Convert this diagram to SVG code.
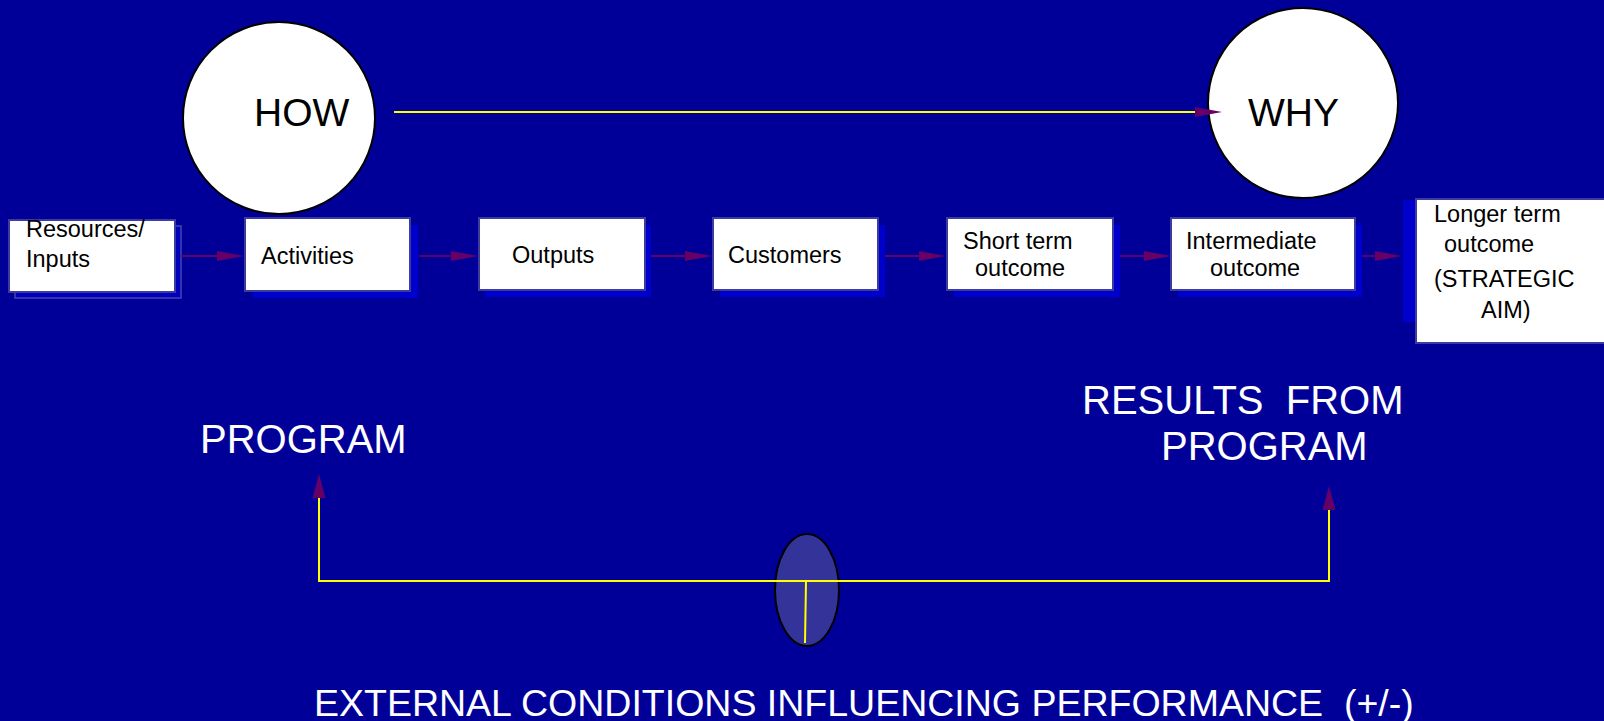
<svg xmlns="http://www.w3.org/2000/svg" width="1604" height="721" viewBox="0 0 1604 721">
<defs>
<style>
.bg{fill:#000099}
.box{fill:#ffffff;stroke:#3c3ca0;stroke-width:2}
.shadow{fill:#0000cc}
.shadow2{fill:#0000bb;stroke:#4444b0;stroke-width:1.5}
.circ{fill:#ffffff;stroke:#000000;stroke-width:2}
.t{font-family:"Liberation Sans",Arial,sans-serif;font-size:23.5px;fill:#000000}
.big{font-family:"Liberation Sans",Arial,sans-serif;font-size:39px;fill:#000000}
.w{font-family:"Liberation Sans",Arial,sans-serif;font-size:40px;fill:#ffffff}
.ext{font-family:"Liberation Sans",Arial,sans-serif;font-size:37.5px;fill:#ffffff}
.ar{stroke:#660066;stroke-width:1.8;fill:none}
.yl{stroke:#ffff00;stroke-width:2;fill:none}
</style>
<marker id="ah" markerUnits="userSpaceOnUse" viewBox="0 0 27 10" refX="0" refY="5" markerWidth="27" markerHeight="10" orient="auto">
<path d="M0,0 L27,5 L0,10 z" fill="#660066"/>
</marker>
<marker id="av" markerUnits="userSpaceOnUse" viewBox="0 0 24 13" refX="0" refY="6.5" markerWidth="24" markerHeight="13" orient="auto">
<path d="M0,0 L24,6.5 L0,13 z" fill="#660066"/>
</marker>
</defs>
<rect class="bg" x="0" y="0" width="1604" height="721"/>

<g id="how">
<circle class="circ" cx="279" cy="118" r="96"/>
<text class="big" x="254" y="126">HOW</text>
</g>
<g id="why">
<circle class="circ" cx="1303" cy="103" r="95"/>
<text class="big" x="1248" y="126">WHY</text>
</g>

<g id="resources">
<rect class="shadow2" x="15" y="226" width="166" height="72"/>
<rect class="box" x="9" y="220" width="166" height="72"/>
<text class="t" x="26" y="237">Resources/</text>
<text class="t" x="26" y="267">Inputs</text>
</g>
<g id="activities">
<rect class="shadow" x="253" y="225" width="165" height="73"/>
<rect class="box" x="245" y="218" width="165" height="73"/>
<text class="t" x="261" y="264">Activities</text>
</g>
<g id="outputs">
<rect class="shadow" x="485" y="225" width="166" height="72"/>
<rect class="box" x="479" y="218" width="166" height="72"/>
<text class="t" x="512" y="263">Outputs</text>
</g>
<g id="customers">
<rect class="shadow" x="720" y="225" width="165" height="72"/>
<rect class="box" x="713" y="218" width="165" height="72"/>
<text class="t" x="728" y="263">Customers</text>
</g>
<g id="shortterm">
<rect class="shadow" x="954" y="225" width="166" height="72"/>
<rect class="box" x="947" y="218" width="166" height="72"/>
<text class="t" x="963" y="249">Short term</text>
<text class="t" x="975" y="276">outcome</text>
</g>
<g id="intermediate">
<rect class="shadow" x="1178" y="225" width="184" height="72"/>
<rect class="box" x="1171" y="218" width="184" height="72"/>
<text class="t" x="1186" y="249">Intermediate</text>
<text class="t" x="1210" y="276">outcome</text>
</g>
<g id="longerterm">
<rect class="shadow" x="1403" y="200" width="20" height="122"/>
<rect class="box" x="1416" y="199" width="190" height="144"/>
<text class="t" x="1434" y="222">Longer term</text>
<text class="t" x="1444" y="252">outcome</text>
<text class="t" x="1434" y="287">(STRATEGIC</text>
<text class="t" x="1481" y="318">AIM)</text>
</g>

<g id="program">
<text class="w" x="200" y="453">PROGRAM</text>
</g>
<g id="results">
<text class="w" x="1082" y="414" xml:space="preserve">RESULTS  FROM</text>
<text class="w" x="1161" y="460">PROGRAM</text>
</g>
<g id="external">
<ellipse cx="807" cy="590" rx="32" ry="56" fill="#333399" stroke="#000000" stroke-width="2"/>
<text class="ext" x="314" y="716" xml:space="preserve">EXTERNAL CONDITIONS INFLUENCING PERFORMANCE  (+/-)</text>
</g>

<g id="connectors">
<line class="ar" x1="181" y1="256" x2="217" y2="256" marker-end="url(#ah)"/>
<line class="ar" x1="419" y1="256" x2="451" y2="256" marker-end="url(#ah)"/>
<line class="ar" x1="651" y1="256" x2="685" y2="256" marker-end="url(#ah)"/>
<line class="ar" x1="885" y1="256" x2="919" y2="256" marker-end="url(#ah)"/>
<line class="ar" x1="1120" y1="256" x2="1144" y2="256" marker-end="url(#ah)"/>
<line class="ar" x1="1362" y1="256" x2="1375" y2="256" marker-end="url(#ah)"/>
<line class="yl" x1="394" y1="112" x2="1195" y2="112" marker-end="url(#ah)"/>
<path class="yl" d="M807,581 H319 V498" marker-end="url(#av)"/>
<path class="yl" d="M807,581 H1329 V510" marker-end="url(#av)"/>
<line class="yl" x1="806" y1="581" x2="805" y2="643"/>
</g>
</svg>
